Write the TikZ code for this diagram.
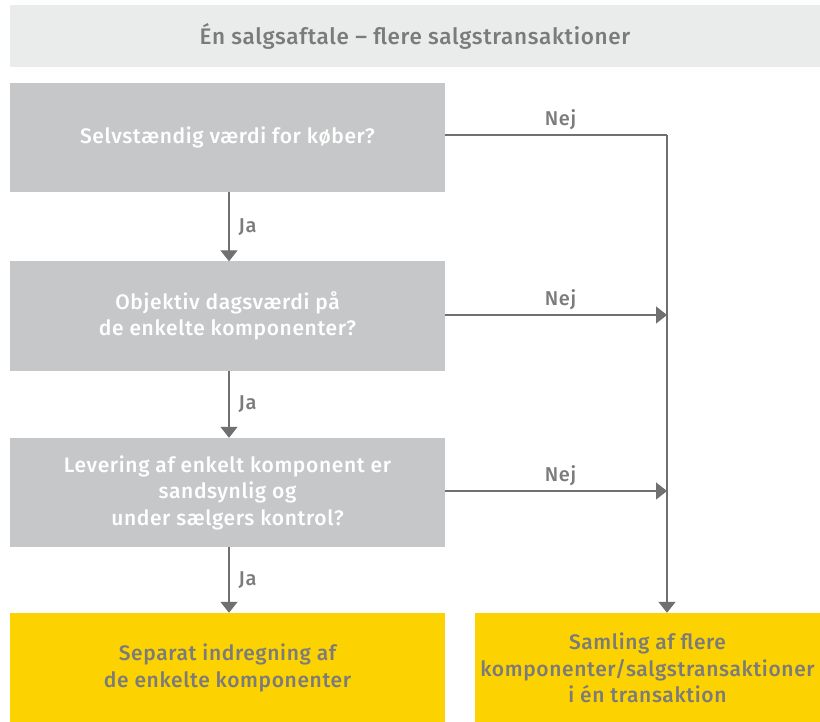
\documentclass[tikz,border=0pt]{standalone}
\usepackage{fontspec}
\setmainfont{Fira Sans Medium}[LetterSpace=3]
\usetikzlibrary{arrows.meta}
\definecolor{headbg}{HTML}{EAEBEB}
\definecolor{qbox}{HTML}{C6C7C8}
\definecolor{ansbox}{HTML}{FCD300}
\definecolor{txtgray}{HTML}{7B7B7B}
\definecolor{linegray}{HTML}{707070}
\begin{document}
\begin{tikzpicture}[x=1pt,y=-1pt,
  box/.style={rectangle, inner sep=0pt, minimum width=435pt, align=center, font=\fontsize{21}{26.5}\selectfont},
  question/.style={box, fill=qbox, text=white, minimum height=109pt},
  answer/.style={box, fill=ansbox, text=txtgray, minimum height=110pt},
  flow/.style={draw=linegray, line width=1.4pt, -{Triangle[width=17pt,length=11pt]}},
  plain/.style={draw=linegray, line width=1.4pt},
  lbl/.style={text=txtgray, font=\fontsize{20}{22}\selectfont, inner sep=1pt}
]
\useasboundingbox (0,0) rectangle (820,722);
\fill[white] (0,0) rectangle (820,722);

% header bar
\node[rectangle, fill=headbg, inner sep=0pt, minimum width=810pt, minimum height=62pt,
      text=txtgray, font=\fontsize{22.5}{26}\selectfont] (head) at (415,36)
      {Én salgsaftale – flere salgstransaktioner};

% decision boxes
\node[question] (q1) at (227.5,137.5) {Selvstændig værdi for køber?};
\node[question] (q2) at (227.5,316) {Objektiv dagsværdi på\\de enkelte komponenter?};
\node[question] (q3) at (227.5,492.5) {Levering af enkelt komponent er\\sandsynlig og\\under sælgers kontrol?};

% outcome boxes
\node[answer] (a1) at (227.5,668) {Separat indregning af\\de enkelte komponenter};
\node[answer, minimum width=345pt] (a2) at (647.5,668) {Samling af flere\\komponenter/salgstransaktioner\\i én transaktion};

% "Ja" path down the left column
\draw[flow] (q1.south -| 229,0) -- (q2.north -| 229,0) node[lbl, midway, right=8pt] {Ja};
\draw[flow] (q2.south -| 229,0) -- (q3.north -| 229,0) node[lbl, midway, right=8pt] {Ja};
\draw[flow] (q3.south -| 229,0) -- (a1.north -| 229,0) node[lbl, midway, right=8pt] {Ja};

% "Nej" paths to the collecting line on the right
\coordinate (top) at (667,135);
\coordinate (m2) at (667,315);
\coordinate (m3) at (667,491);
\draw[plain] (q1.east |- top) -- (top) node[lbl, pos=0.52, above=3pt] {Nej};
\draw[flow] (q2.east |- m2) -- (m2) node[lbl, pos=0.52, above=3pt] {Nej};
\draw[flow] (q3.east |- m3) -- (m3) node[lbl, pos=0.52, above=3pt] {Nej};
\draw[flow] (top) -- (a2.north -| top);
\end{tikzpicture}
\end{document}
